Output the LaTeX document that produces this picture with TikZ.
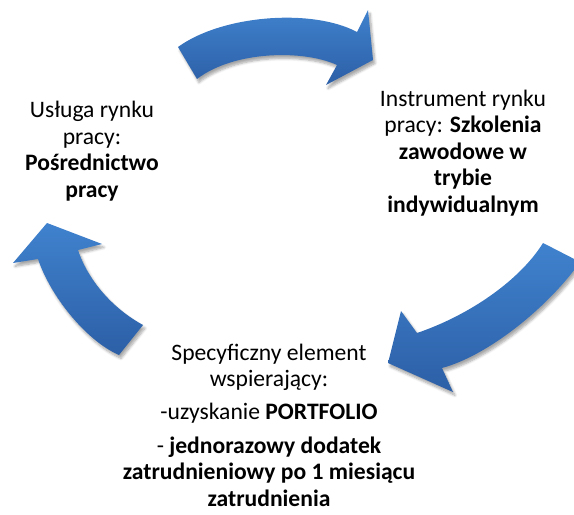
\documentclass[tikz,border=0pt]{standalone}
\usepackage{fontspec}
\setmainfont{Carlito}
\usetikzlibrary{shadows.blur}
\definecolor{arrowtop}{RGB}{64,130,206}
\definecolor{arrowbot}{RGB}{44,95,166}
\tikzset{
  cyc/.style={top color=arrowtop,bottom color=arrowbot,draw=none,
    blur shadow={shadow xshift=1.5pt,shadow yshift=-2.5pt,shadow blur steps=6,shadow opacity=35}},
  lbl/.style={align=center,font=\fontsize{17.7}{19.9}\selectfont,inner sep=0pt},
}

\begin{document}
\begin{tikzpicture}[x=0.75pt,y=-0.75pt]
\useasboundingbox (0,0) rectangle (574,514);
\clip (0,0) rectangle (574,514);
% top arrow
\path[cyc] (178,47) .. controls (222,15) and (312,8) .. (357,32) -- (368,10) -- (373,60)
  -- (326,85) -- (337,65) .. controls (305,50) and (235,50) .. (197,79) -- cycle;
% lower right arrow
\path[cyc] (543,243) .. controls (520,280) and (470,315) .. (417,333) -- (401,311) -- (388,363)
  -- (453,392) -- (442,368) .. controls (490,355) and (550,305) .. (580,262) -- cycle;
% lower left arrow
\path[cyc] (47,223) -- (102,244) -- (78,250) .. controls (88,280) and (112,308) .. (143,325)
  -- (119,355) .. controls (85,340) and (50,295) .. (38,259) -- (13,263) -- cycle;
% texts
\node[lbl] (USL) at (92,151) {Usługa rynku\\pracy:\\\textbf{Pośrednictwo}\\\textbf{pracy}};
\node[lbl] (INSTR) at (463,153) {Instrument rynku\\pracy: \textbf{Szkolenia}\\\textbf{zawodowe w}\\
  \textbf{trybie}\\\textbf{indywidualnym}};
\node[lbl] (SPEC) at (269,425) {Specyficzny element\\wspierający:\\[5pt]
  -uzyskanie \textbf{PORTFOLIO}\\[5pt]
  - \textbf{jednorazowy dodatek}\\\textbf{zatrudnieniowy po 1 miesiącu}\\\textbf{zatrudnienia}};
\end{tikzpicture}
\end{document}
